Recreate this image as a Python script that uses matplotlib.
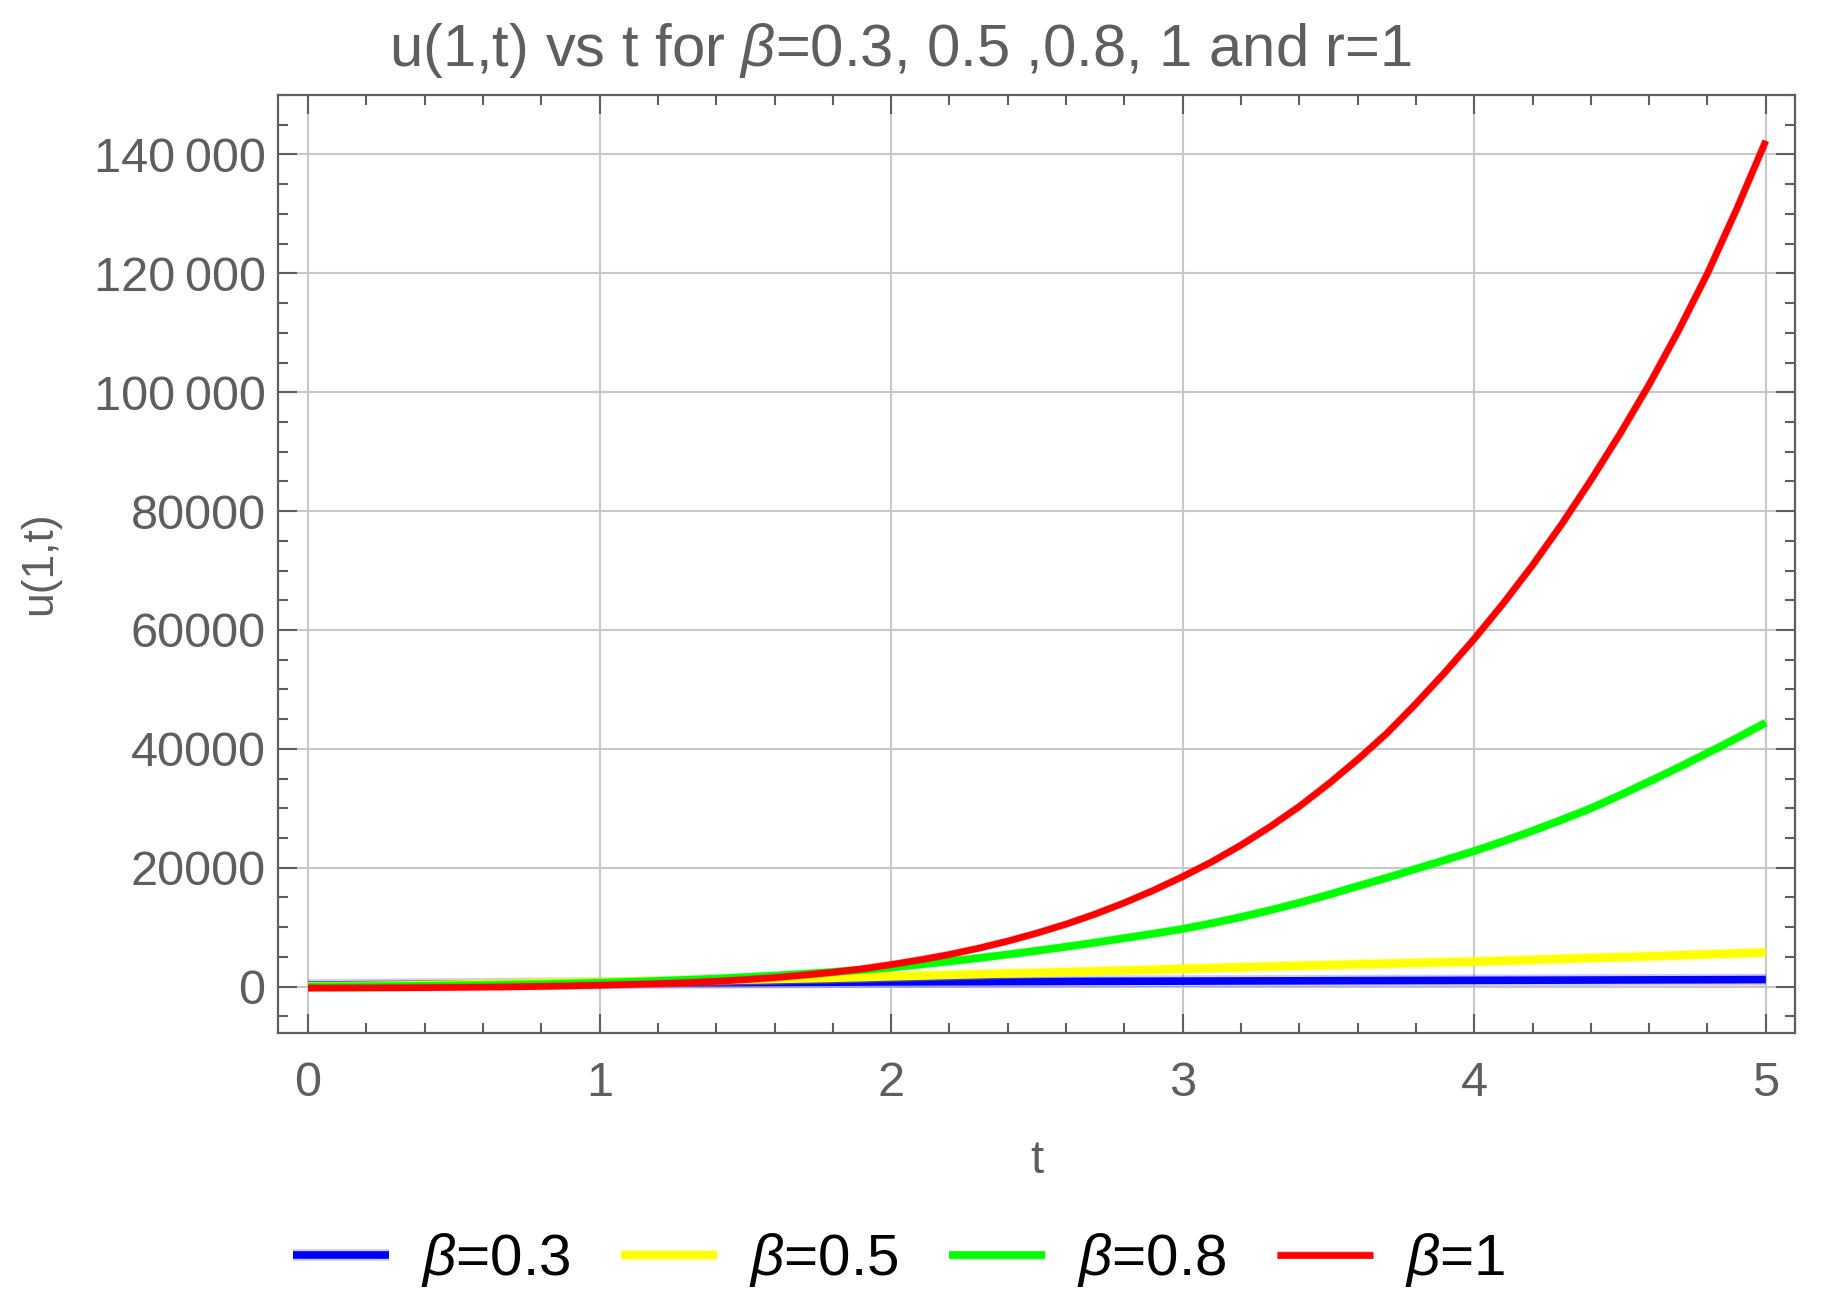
import matplotlib
matplotlib.use("Agg")
import matplotlib.pyplot as plt
from matplotlib.ticker import MultipleLocator, FuncFormatter
import matplotlib.patheffects as pe

plt.rcParams['font.family'] = ['Liberation Sans', 'DejaVu Sans']
plt.rcParams['mathtext.fontset'] = 'custom'
plt.rcParams['mathtext.it'] = 'Liberation Sans:italic'
plt.rcParams['mathtext.rm'] = 'Liberation Sans'

# ---- data ----
t = [0.0, 0.1, 0.2, 0.3, 0.4, 0.5, 0.6, 0.7, 0.8, 0.9,
     1.0, 1.1, 1.2, 1.3, 1.4, 1.5, 1.6, 1.7, 1.8, 1.9,
     2.0, 2.1, 2.2, 2.3, 2.4, 2.5, 2.6, 2.7, 2.8, 2.9,
     3.0, 3.1, 3.2, 3.3, 3.4, 3.5, 3.6, 3.7, 3.8, 3.9,
     4.0, 4.1, 4.2, 4.3, 4.4, 4.5, 4.6, 4.7, 4.8, 4.9,
     5.0]

u_beta03 = [250, 290, 330, 365, 400, 430, 460, 490, 520, 545,
            570, 595, 620, 640, 660, 680, 700, 720, 740, 760,
            780, 795, 810, 825, 840, 855, 870, 885, 900, 910,
            920, 935, 950, 960, 970, 985, 1000, 1010, 1020, 1035,
            1050, 1060, 1070, 1085, 1100, 1115, 1130, 1140, 1150, 1165,
            1180]
u_beta05 = [50, 100, 150, 210, 280, 350, 420, 495, 570, 645,
            720, 800, 880, 965, 1050, 1150, 1250, 1350, 1450, 1570,
            1700, 1820, 1950, 2070, 2200, 2320, 2450, 2570, 2700, 2840,
            2980, 3110, 3250, 3370, 3500, 3620, 3750, 3860, 3980, 4090,
            4200, 4350, 4500, 4650, 4800, 4950, 5100, 5260, 5420, 5580,
            5750]
u_beta08 = [0, 20, 50, 90, 130, 190, 250, 330, 420, 530,
            650, 790, 950, 1140, 1350, 1590, 1850, 2140, 2450, 2810,
            3200, 3700, 4250, 4800, 5400, 6030, 6700, 7400, 8150, 8900,
            9700, 10650, 11700, 12850, 14100, 15450, 16900, 18300, 19800, 21300,
            22800, 24450, 26200, 28050, 30000, 32200, 34500, 36850, 39300, 41800,
            44400]
u_beta1 = [-250, -240, -220, -200, -180, -140, -100, -40, 30, 120,
           230, 350, 480, 660, 880, 1160, 1500, 1920, 2400, 2980,
           3700, 4500, 5400, 6450, 7650, 9000, 10500, 12200, 14100, 16200,
           18500, 21000, 23800, 26900, 30300, 34100, 38200, 42600, 47600, 52900,
           58500, 64500, 70900, 77800, 85200, 93000, 101300, 110300, 120000, 130800,
           142300]

labels = [r'$\beta$=0.3', r'$\beta$=0.5', r'$\beta$=0.8', r'$\beta$=1']
colors = ['#0000ff', '#ffff00', '#00ff00', '#ff0000']
title = r'u(1,t) vs t for $\beta$=0.3, 0.5 ,0.8, 1 and r=1'

GRAY = '#5e5e5e'

fig = plt.figure(figsize=(18.21, 13.11), dpi=100)
ax = fig.add_axes([0.1527, 0.2121, 0.9857 - 0.1527, 0.9275 - 0.2121])

series = [u_beta03, u_beta05, u_beta08, u_beta1]
widths = [5.5, 6.0, 5.5, 4.8]
halos = [[pe.Stroke(linewidth=8.5, foreground='#0000ff', alpha=0.2), pe.Normal()],
         [pe.Stroke(linewidth=8.0, foreground='#ffff00', alpha=0.25), pe.Normal()],
         [pe.Stroke(linewidth=6.5, foreground='#00ff00', alpha=0.2), pe.Normal()],
         [pe.Stroke(linewidth=5.8, foreground='#ff0000', alpha=0.2), pe.Normal()]]
for y, c, lw, lab, h in zip(series, colors, widths, labels, halos):
    ax.plot(t, y, color=c, lw=lw, label=lab, solid_capstyle='butt',
            solid_joinstyle='round', path_effects=h, zorder=3)

ax.set_xlim(-0.103, 5.1)
ax.set_ylim(-7800, 150000)

ax.xaxis.set_major_locator(MultipleLocator(1))
ax.xaxis.set_minor_locator(MultipleLocator(0.2))
ax.yaxis.set_major_locator(MultipleLocator(20000))
ax.yaxis.set_minor_locator(MultipleLocator(5000))


def yfmt(v, pos):
    v = int(round(v))
    s = str(v)
    if abs(v) >= 100000:
        s = s[:-3] + '\u2009' + s[-3:]
    return s


ax.yaxis.set_major_formatter(FuncFormatter(yfmt))
ax.xaxis.set_major_formatter(FuncFormatter(lambda v, p: '%d' % round(v)))

ax.tick_params(which='both', direction='in', top=True, right=True, color=GRAY,
               width=1.5, labelcolor=GRAY, labelsize=35)
ax.tick_params(which='major', length=13.5)
ax.tick_params(which='minor', length=7)
ax.tick_params(axis='y', which='major', pad=9)
ax.tick_params(axis='x', which='major', pad=20)

for s in ax.spines.values():
    s.set_color(GRAY)
    s.set_linewidth(1.6)

ax.grid(True, which='major', color='#c8c8c8', lw=1.5, zorder=0)
ax.set_axisbelow(True)

fig.text(900 / 1821, 1 - 50 / 1311, title, ha='center', va='center',
         fontsize=43, color=GRAY)
fig.text(40 / 1821, 1 - 563 / 1311, 'u(1,t)', ha='center', va='center',
         rotation=90, fontsize=32, color=GRAY)
fig.text(1037 / 1821, 1 - 1161 / 1311, 't', ha='center', va='center',
         fontsize=34, color=GRAY)

fig.legend(loc='center', bbox_to_anchor=(899 / 1821, 1 - 1260 / 1311), ncol=4,
           frameon=False, fontsize=42, handlelength=1.65, handletextpad=0.55,
           columnspacing=0.86, labelcolor='black')

fig.savefig('out.png', dpi=100, facecolor='white')
